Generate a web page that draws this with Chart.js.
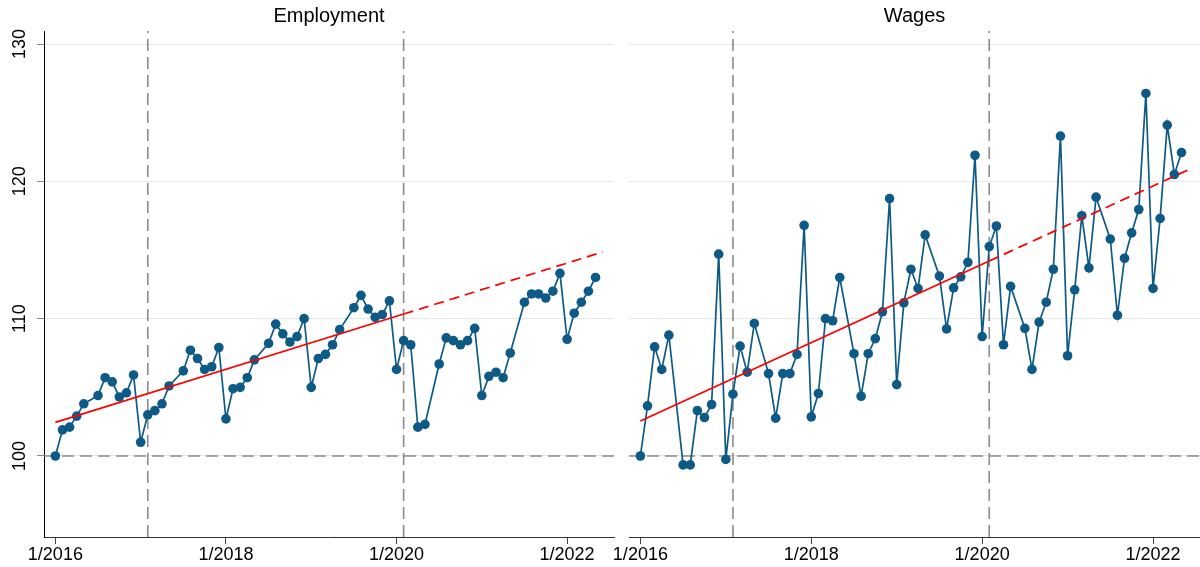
<!DOCTYPE html>
<html lang="en">
<head>
    <meta charset="UTF-8">
    <title>Employment and Wages</title>
    <style>
        body { margin: 0; background: #fff; }
        #wrap { position: relative; width: 1200px; height: 567px; }
        #wrap canvas { position: absolute; top: 0; }
        #employmentChart { left: 0; }
        #wagesChart { left: 600px; }
    </style>
</head>
<body>
    <div id="wrap">
        <canvas id="employmentChart" width="615" height="567"></canvas>
        <canvas id="wagesChart" width="600" height="567"></canvas>
    </div>

    <script src="https://cdn.jsdelivr.net/npm/chart.js"></script>
    <script>
        // Monthly index, month 0 = 1/2016 (June is missing every year)
        const employment = [
            100.0, 101.9, 102.1, 102.9, 103.8, null, 104.4, 105.7, 105.4, 104.3, 104.6, 105.9,
            101.0, 103.0, 103.3, 103.8, 105.1, null, 106.2, 107.7, 107.1, 106.3, 106.5, 107.9,
            102.7, 104.9, 105.0, 105.7, 107.0, null, 108.2, 109.6, 108.9, 108.3, 108.7, 110.0,
            105.0, 107.1, 107.4, 108.1, 109.2, null, 110.8, 111.7, 110.7, 110.1, 110.3, 111.3,
            106.3, 108.4, 108.1, 102.1, 102.3, null, 106.7, 108.6, 108.4, 108.1, 108.4, 109.3,
            104.4, 105.8, 106.1, 105.7, 107.5, null, 111.2, 111.8, 111.8, 111.5, 112.0, 113.3,
            108.5, 110.4, 111.2, 112.0, 113.0
        ];
        const wages = [
            100.0, 103.65, 107.95, 106.3, 108.8, null, 99.35, 99.35, 103.3, 102.8, 103.75, 114.7,
            99.75, 104.5, 108.0, 106.1, 109.65, null, 106.0, 102.75, 106.0, 106.0, 107.4, 116.8,
            102.85, 104.55, 110.0, 109.85, 113.0, null, 107.45, 104.35, 107.45, 108.55, 110.5, 118.75,
            105.2, 111.15, 113.6, 112.2, 116.1, null, 113.1, 109.25, 112.25, 113.05, 114.1, 121.9,
            108.7, 115.25, 116.75, 108.1, 112.35, null, 109.3, 106.3, 109.75, 111.2, 113.6, 123.3,
            107.3, 112.1, 117.5, 113.7, 118.85, null, 115.8, 110.25, 114.4, 116.25, 117.95, 126.4,
            112.2, 117.3, 124.1, 120.5, 122.1
        ];

        // Linear trend: start, break, end of projection
        const trendMonths = [0, 49, 77];
        const employmentTrend = [102.45, 110.34, 114.85];
        const wagesTrend = [102.55, 114.2, 120.85];

        // Reference lines
        const breakMonths = [13, 49];
        const baseline = 100;

        // Axes
        const xTickMonths = [0, 24, 48, 72];
        const xTickLabels = ['1/2016', '1/2018', '1/2020', '1/2022'];
        const yTicks = [100, 110, 120, 130];
        const X_MIN = -1.6, X_MAX = 78.6;
        const Y_MIN = 94.1, Y_MAX = 130.95;

        const FONT = 'Liberation Sans, Arial, sans-serif';
        const SERIES_COLOR = '#0d5a86';
        const REF_COLOR = '#8a8a8a';

        function buildDatasets(values, trend) {
            const sets = [];

            // gray dashed lines (bottom layer)
            breakMonths.forEach(m => {
                sets.push({
                    data: [{ x: m, y: Y_MIN }, { x: m, y: Y_MAX }],
                    borderColor: REF_COLOR, borderWidth: 1.6, borderDash: [12, 6],
                    pointRadius: 0, order: 3
                });
            });
            sets.push({
                data: [{ x: X_MIN, y: baseline }, { x: X_MAX, y: baseline }],
                borderColor: REF_COLOR, borderWidth: 1.6, borderDash: [12, 6],
                pointRadius: 0, order: 3
            });

            // the series itself
            sets.push({
                data: values.map((v, i) => ({ x: i, y: v })),
                borderColor: SERIES_COLOR, backgroundColor: SERIES_COLOR,
                borderWidth: 1.7, pointRadius: 4.8, pointBorderWidth: 0,
                spanGaps: true, order: 2
            });

            // red trend, solid then dashed
            sets.push({
                data: [{ x: trendMonths[0], y: trend[0] }, { x: trendMonths[1], y: trend[1] }],
                borderColor: '#ff0000', borderWidth: 1.8, pointRadius: 0, order: 1
            });
            sets.push({
                data: [{ x: trendMonths[1], y: trend[1] }, { x: trendMonths[2], y: trend[2] }],
                borderColor: '#ff0000', borderWidth: 1.8, borderDash: [10, 6], pointRadius: 0, order: 1
            });
            return sets;
        }

        function makePanel(canvasId, title, values, trend, showY, padding) {
            return new Chart(document.getElementById(canvasId), {
                type: 'line',
                data: { datasets: buildDatasets(values, trend) },
                options: {
                    responsive: false,
                    animation: false,
                    layout: { padding: padding, autoPadding: false },
                    plugins: {
                        legend: { display: false },
                        tooltip: { enabled: false },
                        title: {
                            display: true,
                            text: title,
                            fullSize: false,
                            color: '#000',
                            font: { family: FONT, size: 20, weight: 'normal' },
                            padding: { top: 4, bottom: 3 }
                        }
                    },
                    scales: {
                        x: {
                            type: 'linear',
                            min: X_MIN,
                            max: X_MAX,
                            afterBuildTicks: s => { s.ticks = xTickMonths.map(v => ({ value: v })); },
                            afterFit: s => {
                                s.height = 30;
                                // labels fit inside the plot, no extra room needed
                                s.paddingLeft = 0;
                                s.paddingRight = 0;
                            },
                            ticks: {
                                callback: v => xTickLabels[xTickMonths.indexOf(v)],
                                color: '#000',
                                font: { family: FONT, size: 18 },
                                padding: 0,
                                maxRotation: 0,
                                autoSkip: false
                            },
                            grid: { drawOnChartArea: false, tickLength: 7, tickColor: '#444' },
                            border: { color: '#333' }
                        },
                        y: {
                            type: 'linear',
                            min: Y_MIN,
                            max: Y_MAX,
                            afterBuildTicks: s => { s.ticks = yTicks.map(v => ({ value: v })); },
                            afterFit: s => { s.width = showY ? 44 : 0; },
                            ticks: {
                                display: showY,
                                color: '#000',
                                font: { family: FONT, size: 18 },
                                minRotation: 90,
                                maxRotation: 90,
                                crossAlign: 'center',
                                padding: 2
                            },
                            grid: {
                                color: '#e6e6e6',
                                drawTicks: showY,
                                tickLength: showY ? 7 : 0,
                                tickColor: '#888'
                            },
                            border: { display: showY, color: '#000' }
                        }
                    }
                }
            });
        }

        makePanel('employmentChart', 'Employment', employment, employmentTrend, true,
            { left: 0, right: 1, top: 0, bottom: 0 });
        makePanel('wagesChart', 'Wages', wages, wagesTrend, false,
            { left: 29, right: 0, top: 0, bottom: 0 });
    </script>
</body>
</html>
